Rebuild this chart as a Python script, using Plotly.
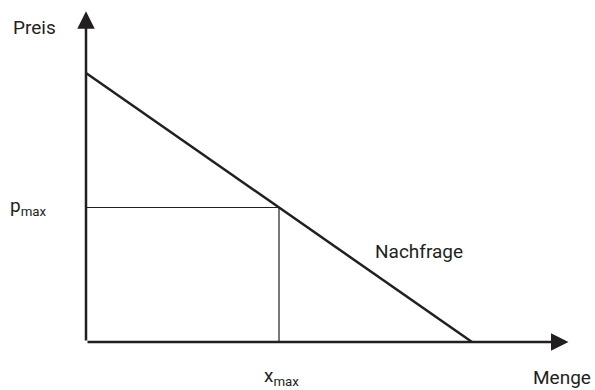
import plotly.graph_objects as go

# Data (arbitrary units)
demand_q = [0, 100]      # demand line: quantity values
demand_p = [100, 0]      # demand line: price values
x_max = 50
p_max = 50
axis_len_q = 125
axis_len_p = 123

ink = "#231f20"
font = dict(family="Roboto, Noto Sans, sans-serif", size=19, color=ink)

W, H = 595, 390
OX, OY = 86, 342          # origin in pixels
SX, SY = 3.86, 2.69       # pixels per unit


def qx(px):  # pixel -> quantity units
    return (px - OX) / SX


def py(py_):  # pixel -> price units
    return (OY - py_) / SY


fig = go.Figure()

fig.add_trace(go.Scatter(x=demand_q, y=demand_p, mode="lines",
                         line=dict(color=ink, width=2.5), hoverinfo="skip"))
fig.add_trace(go.Scatter(x=[0, x_max, x_max], y=[p_max, p_max, 0], mode="lines",
                         line=dict(color=ink, width=1.2), hoverinfo="skip"))

for (x0, y0, x1, y1) in [(0, 0, axis_len_q, 0), (0, 0, 0, axis_len_p)]:
    fig.add_annotation(x=x1, y=y1, ax=x0, ay=y0, xref="x", yref="y",
                       axref="x", ayref="y", showarrow=True, text="",
                       arrowhead=2, arrowsize=1.4, arrowwidth=2.5,
                       arrowcolor=ink, standoff=0, startstandoff=0)

fig.add_annotation(x=qx(34), y=py(27), text="Preis", showarrow=False,
                   xanchor="center", yanchor="middle", font=font)
fig.add_annotation(x=qx(8), y=py(206), text="p<sub>max</sub>", showarrow=False,
                   xanchor="left", yanchor="middle", font=font)
fig.add_annotation(x=qx(262), y=py(376), text="x<sub>max</sub>", showarrow=False,
                   xanchor="left", yanchor="middle", font=font)
fig.add_annotation(x=qx(562), y=py(377), text="Menge", showarrow=False,
                   xanchor="center", yanchor="middle", font=font)
fig.add_annotation(x=qx(373), y=py(251), text="Nachfrage", showarrow=False,
                   xanchor="left", yanchor="middle", font=font)

fig.update_layout(
    width=W, height=H,
    margin=dict(l=0, r=0, t=0, b=0),
    paper_bgcolor="white", plot_bgcolor="white",
    showlegend=False,
    hovermode=False,
    xaxis=dict(range=[-OX / SX, (W - OX) / SX], visible=False, fixedrange=True),
    yaxis=dict(range=[-(H - OY) / SY, OY / SY], visible=False, fixedrange=True),
)

fig.write_html("out.html",
               config={"displayModeBar": False, "staticPlot": True},
               post_script="document.body.style.margin='0';"
                           "document.body.style.overflow='hidden';")
